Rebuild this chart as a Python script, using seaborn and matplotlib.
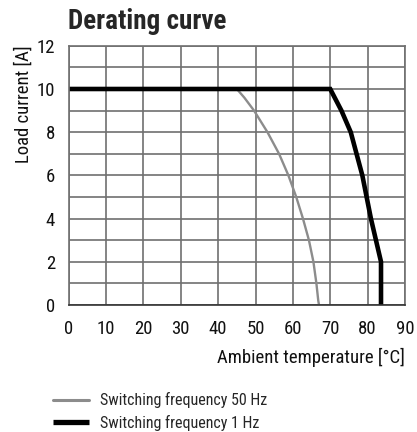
import pandas as pd
import seaborn as sns
from matplotlib import pyplot as plt
from matplotlib.ticker import MultipleLocator

# Courbes de déclassement
temp_50hz = [0, 45, 47, 49.6, 53.2, 56.3, 58.8, 60.9, 62.7, 64.3, 65.5, 66.3, 66.8, 67.0]
load_50hz = [10, 10, 9.6, 9.0, 8.0, 7.0, 6.0, 5.0, 4.0, 3.0, 2.0, 1.0, 0.2, 0]
temp_1hz = [0, 70, 73.0, 75.5, 78.6, 80.9, 83.6, 83.6]
load_1hz = [10, 10, 9.0, 8.0, 6.0, 4.0, 2.0, 0]
series_names = ['Switching frequency 50 Hz', 'Switching frequency 1 Hz']

x_ticks = list(range(0, 91, 10))
y_ticks = list(range(0, 13, 2))

df = pd.concat([
    pd.DataFrame({'temp': temp_50hz, 'load': load_50hz, 'serie': series_names[0]}),
    pd.DataFrame({'temp': temp_1hz, 'load': load_1hz, 'serie': series_names[1]}),
], ignore_index=True)

FONTS = ['Roboto Condensed', 'Archivo Narrow', 'DejaVu Sans']
sns.set_style('white')
plt.rcParams['font.family'] = FONTS

fig = plt.figure(figsize=(4.17, 4.32), dpi=100)
ax = fig.add_axes([0.165, 0.294, 0.806, 0.6])

grid_color = '#707070'
ax.set_xlim(0, 90)
ax.set_ylim(0, 12)
ax.set_xticks(x_ticks)
ax.set_yticks(y_ticks)
ax.yaxis.set_minor_locator(MultipleLocator(1))
ax.grid(True, which='both', color=grid_color, linewidth=1.2)
ax.set_axisbelow(True)
for side in ['left', 'right', 'top', 'bottom']:
    ax.spines[side].set_color(grid_color)
    ax.spines[side].set_linewidth(1.2)
ax.spines['bottom'].set_color('#333333')
ax.tick_params(axis='both', which='both', direction='out', length=6, width=1.2,
               color=grid_color, labelsize=13.5, labelcolor='#111111')
ax.tick_params(axis='y', which='both', pad=4)
ax.tick_params(axis='x', pad=5)

sns.lineplot(data=df, x='temp', y='load', hue='serie', size='serie', sort=False,
             estimator=None, palette=['#8c8c8c', '#000000'],
             sizes=[1.7, 3.3], legend=False, ax=ax)
for line in ax.get_lines():
    line.set_solid_capstyle('butt')
    line.set_solid_joinstyle('miter')

ax.set_xlabel('Ambient temperature [°C]', fontsize=13.5, loc='right', labelpad=7,
              color='#111111')
ax.set_ylabel('Load current [A]', fontsize=13.5, loc='top', labelpad=3,
              color='#111111')
fig.text(0.163, 1 - 29 / 432, 'Derating curve', fontsize=19.5, fontweight='bold',
         va='baseline', family=FONTS)

handles = [plt.Line2D([], [], color='#8c8c8c', linewidth=2.2),
           plt.Line2D([], [], color='#000000', linewidth=3.8, solid_capstyle='butt')]
fig.legend(handles, series_names, loc='center left',
           bbox_to_anchor=(0.126, 1 - 411.5 / 432),
           frameon=False, fontsize=11.5, handlelength=2.3, handletextpad=0.7,
           labelspacing=0.4, borderaxespad=0, borderpad=0)

fig.savefig('out.png', dpi=100)
plt.close()
